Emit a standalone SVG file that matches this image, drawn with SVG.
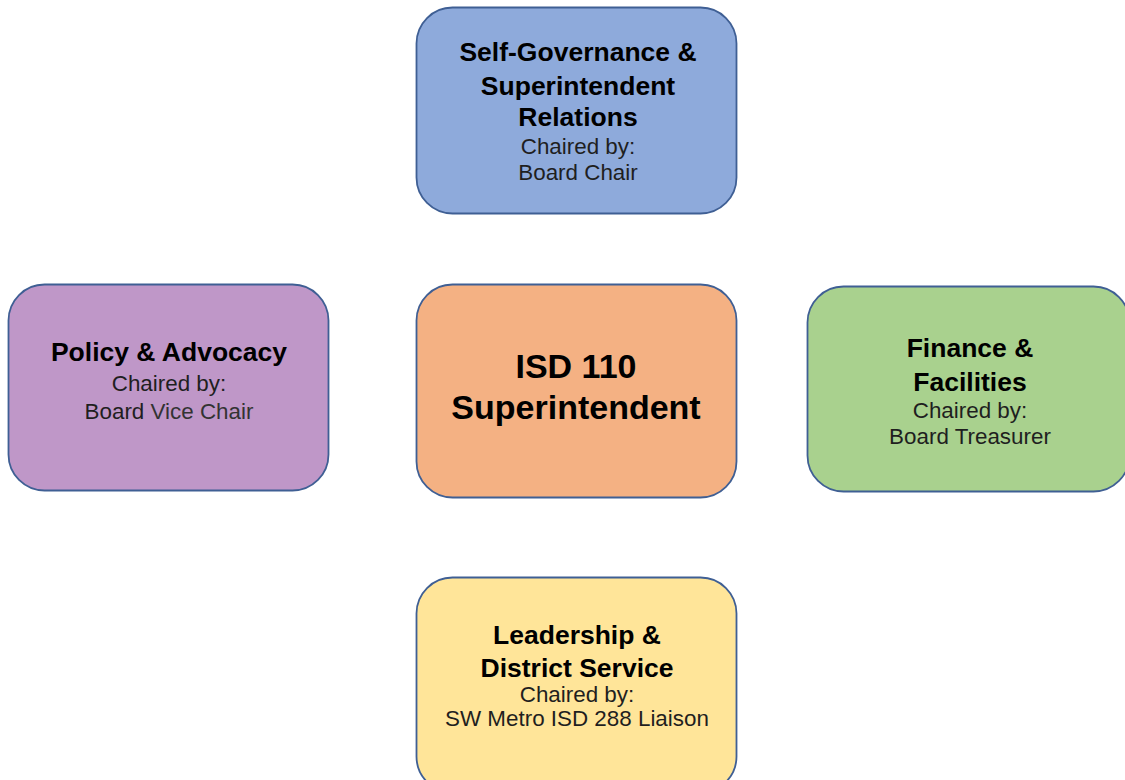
<svg xmlns="http://www.w3.org/2000/svg" width="1125" height="780" viewBox="0 0 1125 780">
<style>
.box{stroke:#3f5f94;stroke-width:1.8}
.t{font-family:"Liberation Sans",Arial,sans-serif;font-weight:bold;font-size:26.5px;fill:#000;text-anchor:middle}
.s{font-family:"Liberation Sans",Arial,sans-serif;font-size:22.4px;fill:#1f1f1f;text-anchor:middle}
.big{font-size:34px}
</style>
<rect width="1125" height="780" fill="#fff"/>
<g id="connectors"></g>
<g id="self-governance">
<rect class="box" x="416.5" y="7.5" width="320" height="206" rx="36" fill="#8eaadb"/>
<text class="t" x="578" y="61">Self-Governance &amp;</text>
<text class="t" x="578" y="95">Superintendent</text>
<text class="t" x="578" y="126">Relations</text>
<text class="s" x="578" y="154">Chaired by:</text>
<text class="s" x="578" y="180">Board Chair</text>
</g>
<g id="policy">
<rect class="box" x="8.5" y="284.5" width="320" height="206" rx="36" fill="#bf97c8"/>
<text class="t" x="169" y="361">Policy &amp; Advocacy</text>
<text class="s" x="169" y="391">Chaired by:</text>
<text class="s" x="169" y="419">Board <tspan fill="#333">Vice Chair</tspan></text>
</g>
<g id="superintendent">
<rect class="box" x="416.5" y="284.5" width="320" height="213" rx="36" fill="#f4b183"/>
<text class="t big" x="576" y="378">ISD 110</text>
<text class="t big" x="576" y="419">Superintendent</text>
</g>
<g id="finance">
<rect class="box" x="807.5" y="286.5" width="322" height="205" rx="36" fill="#a9d18e"/>
<text class="t" x="970" y="357">Finance &amp;</text>
<text class="t" x="970" y="391">Facilities</text>
<text class="s" x="970" y="418">Chaired by:</text>
<text class="s" x="970" y="444">Board Treasurer</text>
</g>
<g id="leadership">
<rect class="box" x="416.5" y="577.5" width="320" height="215" rx="36" fill="#ffe599"/>
<text class="t" x="577" y="644">Leadership &amp;</text>
<text class="t" x="577" y="677">District Service</text>
<text class="s" x="577" y="702">Chaired by:</text>
<text class="s" x="577" y="726">SW Metro ISD 288 Liaison</text>
</g>
</svg>
